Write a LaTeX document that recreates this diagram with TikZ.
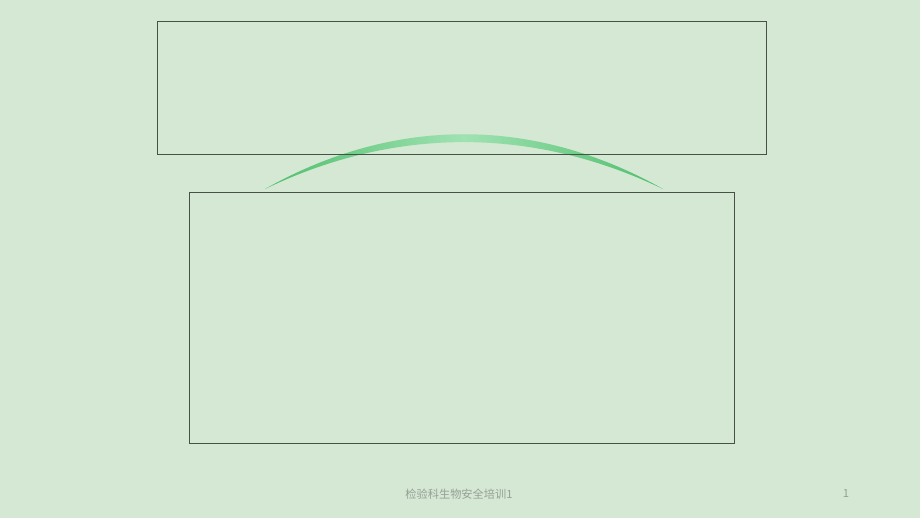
\documentclass[tikz,border=0pt]{standalone}
\usepackage{fontspec}
\newfontfamily\cjk{Noto Sans CJK SC}
\setmainfont{Liberation Sans}
\definecolor{bg}{RGB}{213,232,212}
\definecolor{frame}{RGB}{70,82,70}
\definecolor{arcend}{RGB}{78,190,108}
\definecolor{arcmid}{RGB}{160,226,178}
\definecolor{foot}{RGB}{150,160,150}
\tikzset{
  panel/.style={draw=frame, line width=0.9pt},
  footer/.style={text=foot, font=\cjk\fontsize{11.2}{13}\selectfont, inner sep=0pt},
}
\begin{document}
\begin{tikzpicture}[x=1pt,y=-1pt]
\fill[bg] (0,0) rectangle (920,518);
\useasboundingbox (0,0) rectangle (920,518);
\coordinate (aL) at (265,189);
\coordinate (aR) at (663,189);
\shade[left color=arcend, right color=arcend, middle color=arcmid]
  (aL) .. controls (394,116) and (534,116) .. (aR)
  .. controls (534,127) and (396,126) .. (aL) -- cycle;
\node[panel, minimum width=609pt, minimum height=133pt, anchor=north west, inner sep=0pt] (top) at (157,21) {};
\node[panel, minimum width=545pt, minimum height=251pt, anchor=north west, inner sep=0pt] (bottom) at (189,192) {};
\node[footer] (ft) at (459,494) {检验科生物安全培训1};
\node[footer] (pg) at (846,494) {1};
\end{tikzpicture}
\end{document}
